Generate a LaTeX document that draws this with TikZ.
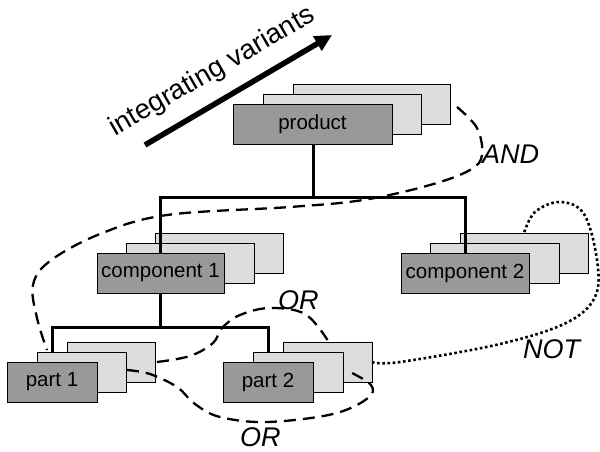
\documentclass[tikz,border=0pt]{standalone}
\usepackage{fontspec}
\setmainfont{Liberation Sans}
\usetikzlibrary{arrows.meta,calc}
\definecolor{boxdark}{HTML}{999999}
\definecolor{boxlight}{HTML}{DDDDDD}
\begin{document}
\begin{tikzpicture}[x=1pt,y=-1pt,
  stackbox/.style={draw=black, line width=0.9pt, anchor=north west,
    minimum height=40pt, inner sep=0pt, outer sep=0pt},
  frontbox/.style={stackbox, fill=boxdark, font=\fontsize{20.5}{24}\selectfont},
  backbox/.style={stackbox, fill=boxlight},
  tree/.style={line width=3pt},
  andlink/.style={line width=2.3pt, dash pattern=on 12pt off 7pt},
  notlink/.style={line width=2.6pt, dash pattern=on 2.6pt off 2.6pt},
  oplabel/.style={font=\fontsize{27}{30}\selectfont\itshape, inner sep=0pt, anchor=base west}]
\useasboundingbox (0,0) rectangle (600,452);

% product stack
\node[backbox, minimum width=157pt] (pr3) at (293,84) {};
\node[backbox, minimum width=158pt] (pr2) at (263,94) {};
\node[frontbox, minimum width=159pt] (pr1) at (233,104) {product};

% component 1 stack
\node[backbox, minimum width=128pt] (ca3) at (155,233) {};
\node[backbox, minimum width=128pt] (ca2) at (126,243) {};
\node[frontbox, minimum width=127pt] (ca1) at (97,253) {component 1};

% component 2 stack
\node[backbox, minimum width=128pt] (cb3) at (460,233) {};
\node[backbox, minimum width=129pt] (cb2) at (430,243) {};
\node[frontbox, minimum width=128pt] (cb1) at (401,253) {component 2};

% part 1 stack
\node[backbox, minimum width=88pt] (pa3) at (67,342) {};
\node[backbox, minimum width=89pt] (pa2) at (37,352) {};
\node[frontbox, minimum width=90pt] (pa1) at (7,362) {part 1};

% part 2 stack
\node[backbox, minimum width=89pt] (pb3) at (283,342) {};
\node[backbox, minimum width=90pt] (pb2) at (253,352) {};
\node[frontbox, minimum width=90pt] (pb1) at (223,362) {part 2};

% tree of the structure
\coordinate (busA) at (313,197);
\coordinate (busB) at (160,327);
\draw[tree] (pr1.south -| busA) -- (busA);
\draw[tree] (ca1.north -| 160,0) |- (busA) -| (cb1.north -| 465,0);
\draw[tree] (ca1.south -| busB) -- (busB);
\draw[tree] (pa2.north -| 52,0) |- (busB) -| (pb2.north -| 268,0);

% direction of integration
\coordinate (arrtail) at (145,145);
\coordinate (arrtip) at (332,35);
\draw[line width=5.5pt, -{Triangle[length=17pt,width=16pt]}] (arrtail) -- (arrtip);
\node[font=\fontsize{27.5}{30}\selectfont, rotate=30, anchor=base, inner sep=0pt]
  (intlabel) at (216,78) {integrating variants};

% AND relation: product variants to part 1
\draw[andlink] plot[smooth, tension=0.6] coordinates {
  ($(pr3.east)+(7,3)$) (477,128) (482,155) (470,170) (430,185) (363,200)
  (290,207) (167,215) (100,234) (50,261) (33,285) (37,318) ($(pa2.north west)+(10,-2)$)};
\node[oplabel] (andlabel) at (482,163) {AND};

% OR relation between part 1 and part 2 (upper)
\draw[andlink] plot[smooth, tension=0.6] coordinates {
  ($(pa3.east)+(2,0)$) (190,356) (213,343) (222,328) (240,315) (270,308)
  (305,314) ($(pb3.north)+(0,-2)$)};
\node[oplabel] (orlabelA) at (278,309) {OR};

% OR relation between part 1 and part 2 (lower)
\draw[andlink] plot[smooth, tension=0.6] coordinates {
  ($(pa2.east)+(1,-2)$) (150,374) (177,387) (195,404) (220,417) (267,422)
  (333,414) (368,398) (371,385) ($(pb2.east)+(7,0)$)};
\node[oplabel] (orlabelB) at (240,446) {OR};

% NOT relation: part 2 to component 2
\draw[notlink] plot[smooth, tension=0.6] coordinates {
  (pb3.east) (400,362) (500,344) (566,323) (595,297) (597,260) (584,214)
  (560,202) (535,212) (cb3.north -| 524,0)};
\node[oplabel] (notlabel) at (523,358) {NOT};
\end{tikzpicture}
\end{document}
